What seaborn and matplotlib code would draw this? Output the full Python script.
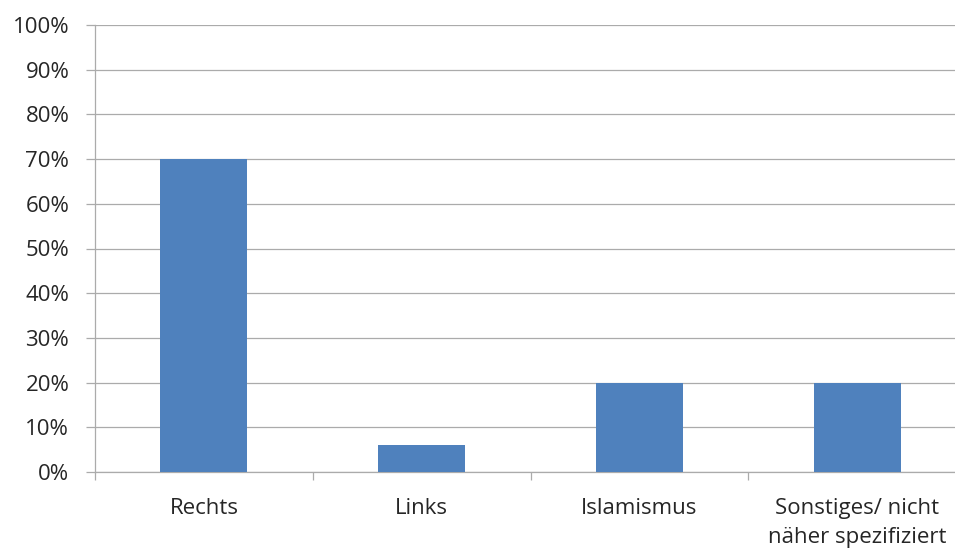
import matplotlib
matplotlib.use("Agg")
import matplotlib.pyplot as plt
import seaborn as sns
import pandas as pd
from matplotlib.ticker import FuncFormatter, FixedLocator

categories = ["Rechts", "Links", "Islamismus", "Sonstiges/ nicht\nnäher spezifiziert"]
values = [0.70, 0.06, 0.20, 0.20]
y_ticks = [0.0, 0.1, 0.2, 0.3, 0.4, 0.5, 0.6, 0.7, 0.8, 0.9, 1.0]

sns.set_theme(style="white")
plt.rcParams["font.family"] = ["Open Sans", "DejaVu Sans"]

df = pd.DataFrame({"cat": categories, "val": values})

fig = plt.figure(figsize=(9.55, 5.52), dpi=100)
ax = fig.add_axes([95/955, 80/552, 871/955, 447/552])

grid_c = "#ABABAB"
text_c = "#262626"

sns.barplot(data=df, x="cat", y="val", color="#4F81BD", width=0.4,
            saturation=1, linewidth=0, ax=ax, zorder=3)

ax.set_ylim(0, 1)
ax.set_xlim(-0.5, len(categories) - 0.5)
ax.yaxis.set_major_locator(FixedLocator(y_ticks))
ax.yaxis.set_major_formatter(FuncFormatter(lambda v, p: f"{int(round(v*100))}%"))
ax.yaxis.grid(True, color=grid_c, linewidth=0.9)
ax.set_axisbelow(True)

for s in ["top", "right"]:
    ax.spines[s].set_visible(False)
for s in ["left", "bottom"]:
    ax.spines[s].set_color(grid_c)
    ax.spines[s].set_linewidth(0.9)

ax.tick_params(axis="y", which="major", left=True, length=6.5, width=0.9,
               color=grid_c, pad=12, labelsize=16, labelcolor=text_c)
ax.tick_params(axis="x", which="major", bottom=False, length=0, pad=19,
               labelsize=16, labelcolor=text_c)
ax.set_xticks(range(len(categories)))
ax.set_xticklabels(categories, multialignment="center", linespacing=1.5)
ax.xaxis.set_minor_locator(FixedLocator([i - 0.5 for i in range(len(categories) + 1)]))
ax.tick_params(axis="x", which="minor", bottom=True, length=6, width=0.9, color=grid_c)

ax.set_xlabel("")
ax.set_ylabel("")

fig.savefig("out.png", dpi=100)
